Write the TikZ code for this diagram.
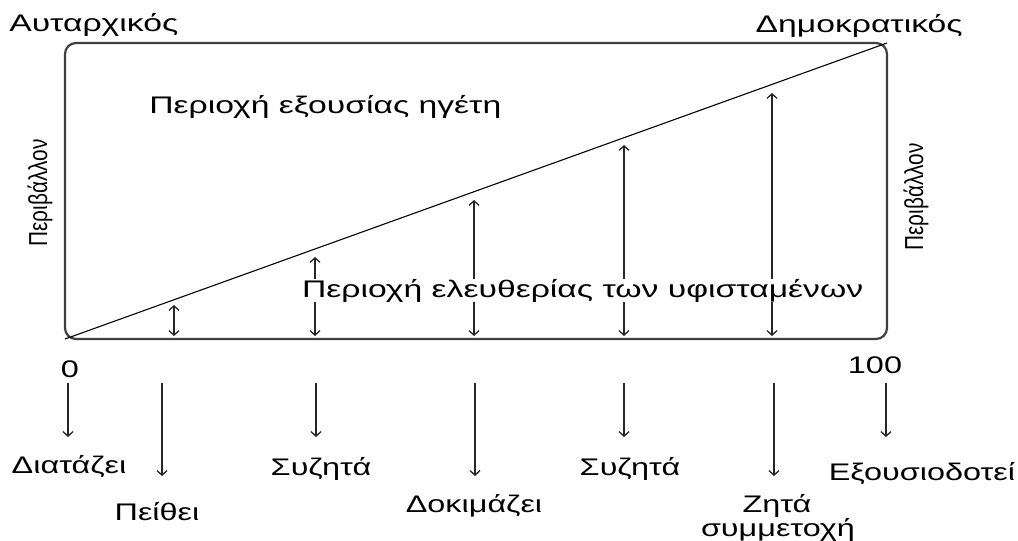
\documentclass[tikz,border=0pt]{standalone}
\usepackage{fontspec}
\setmainfont{Liberation Sans}
\usetikzlibrary{arrows.meta}
\begin{document}
\begin{tikzpicture}[x=1pt,y=-1pt,
  txt/.style={font=\fontsize{24}{25}\selectfont, inner sep=0pt, align=center, xscale=1.35, transform shape},
  wide/.style={txt, xscale=1.04},
  side/.style={font=\fontsize{26}{28}\selectfont, inner sep=0pt, rotate=90, xscale=0.8, transform shape},
  frame/.style={draw=black!75, line width=2.2pt, rounded corners=11pt},
  diag/.style={draw=black, line width=1.1pt},
  tip/.tip={Straight Barb[length=4.5pt,width=10pt]},
  arr/.style={draw=black!85, line width=1.3pt, -tip},
  darr/.style={draw=black!85, line width=1.3pt, tip-tip}]
\useasboundingbox (0,0) rectangle (1018,541);
% frame and diagonal
\coordinate (bl) at (65,339);
\coordinate (tr) at (887,43);
\draw[frame] (bl) rectangle (tr);
\draw[diag] (bl) -- (tr);
% top labels
\node[wide, anchor=base west] (aut) at (9,31) {Αυταρχικός};
\node[wide, anchor=base east] (dem) at (963,32) {Δημοκρατικός};
\node[wide, anchor=base west] (lead) at (149,113) {Περιοχή εξουσίας ηγέτη};
\node[side] (envl) at (40,193) {Περιβάλλον};
\node[side] (envr) at (916,197) {Περιβάλλον};
% inner double arrows
\coordinate (a1t) at (174,305); \coordinate (a1b) at (174,336);
\coordinate (a2t) at (315,257); \coordinate (a2b) at (315,336);
\coordinate (a3t) at (474,200); \coordinate (a3b) at (474,336);
\coordinate (a4t) at (624,145); \coordinate (a4b) at (624,336);
\coordinate (a5t) at (772,93);  \coordinate (a5b) at (772,336);
\draw[darr] (a1t) -- (a1b);
\draw[darr] (a2t) -- (a2b);
\draw[darr] (a3t) -- (a3b);
\draw[darr] (a4t) -- (a4b);
\draw[darr] (a5t) -- (a5b);
\node[wide, fill=white, inner xsep=2pt, anchor=base west] (free) at (299,297) {Περιοχή ελευθερίας των υφισταμένων};
% scale
\node[txt, anchor=base] (zero) at (70,377) {0};
\node[txt, anchor=base] (hund) at (875,373) {100};
% lower arrows
\coordinate (b1t) at (68,383);  \coordinate (b1b) at (68,437);
\coordinate (b2t) at (162,383); \coordinate (b2b) at (162,476);
\coordinate (b3t) at (316,383); \coordinate (b3b) at (316,437);
\coordinate (b4t) at (475,383); \coordinate (b4b) at (475,476);
\coordinate (b5t) at (624,383); \coordinate (b5b) at (624,437);
\coordinate (b6t) at (774,383); \coordinate (b6b) at (774,476);
\coordinate (b7t) at (886,383); \coordinate (b7b) at (886,437);
\draw[arr] (b1t) -- (b1b);
\draw[arr] (b2t) -- (b2b);
\draw[arr] (b3t) -- (b3b);
\draw[arr] (b4t) -- (b4b);
\draw[arr] (b5t) -- (b5b);
\draw[arr] (b6t) -- (b6b);
\draw[arr] (b7t) -- (b7b);
% lower labels
\node[txt, anchor=base] (l1) at (69,473) {Διατάζει};
\node[txt, anchor=base] (l2) at (157,520) {Πείθει};
\node[txt, anchor=base] (l3) at (321,475) {Συζητά};
\node[txt, anchor=base] (l4) at (474,512) {Δοκιμάζει};
\node[txt, anchor=base] (l5) at (630,475) {Συζητά};
\node[txt, anchor=base] (l6a) at (777,512) {Ζητά};
\node[txt, anchor=base] (l6b) at (778,536) {συμμετοχή};
\node[txt, anchor=base] (l7) at (922,480) {Εξουσιοδοτεί};
\end{tikzpicture}
\end{document}
